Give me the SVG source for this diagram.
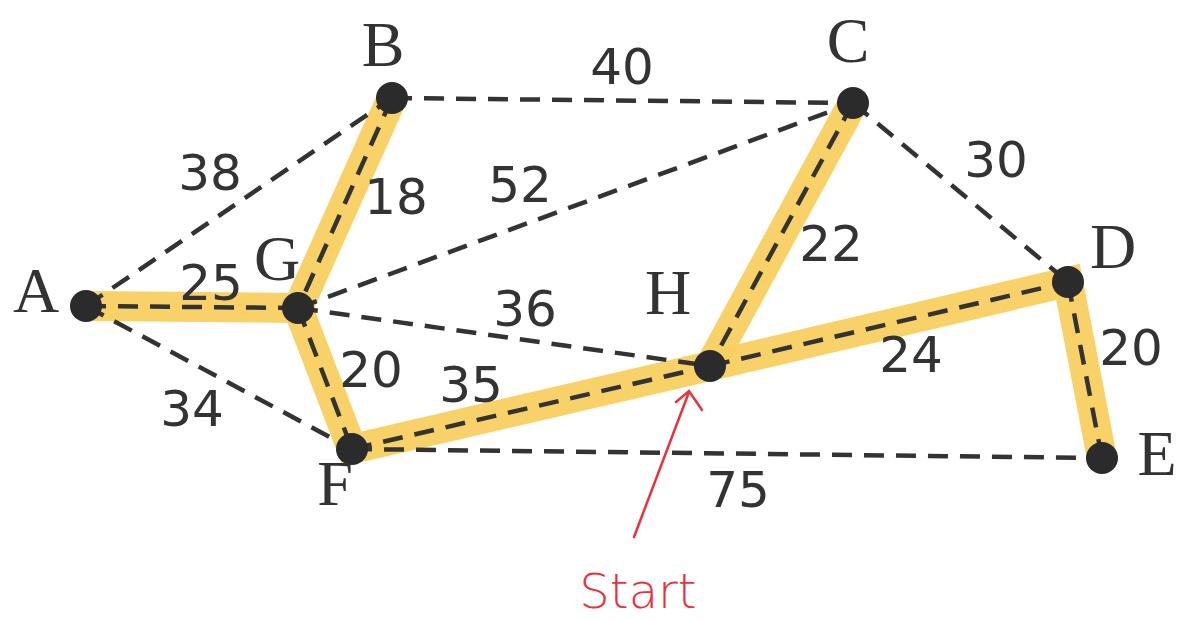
<svg xmlns="http://www.w3.org/2000/svg" width="1181" height="621" viewBox="0 0 1181 621">
<style>
.hl{stroke:#f8d060;stroke-width:30;stroke-linecap:round;fill:none;opacity:0.95}
.e{stroke:#333;stroke-width:4.5;stroke-dasharray:20 12;fill:none}
.n{fill:#2b2b2b}
.lbl{font-family:"Liberation Serif",serif;font-size:64px;fill:#333;text-anchor:middle}
.w{font-family:"DejaVu Sans",sans-serif;font-size:50px;fill:#333;text-anchor:middle}
.red{stroke:#e8323c;stroke-width:2.5;fill:none;stroke-linecap:round}
</style>
<rect width="1181" height="621" fill="#fff"/>
<g id="highlight">
<path class="hl" d="M86 306 L298 308 L392 98"/>
<path class="hl" d="M298 308 L352 449 L710 366 L853 103"/>
<path class="hl" d="M710 366 L1068 282 L1102 458"/>
</g>
<g id="connectors">
<line class="e" x1="86" y1="306" x2="392" y2="98"/>
<line class="e" x1="86" y1="306" x2="298" y2="308"/>
<line class="e" x1="86" y1="306" x2="352" y2="449"/>
<line class="e" x1="392" y1="98" x2="853" y2="103"/>
<line class="e" x1="392" y1="98" x2="298" y2="308"/>
<line class="e" x1="298" y1="308" x2="853" y2="103"/>
<line class="e" x1="853" y1="103" x2="1068" y2="282"/>
<line class="e" x1="853" y1="103" x2="710" y2="366"/>
<line class="e" x1="298" y1="308" x2="710" y2="366"/>
<line class="e" x1="298" y1="308" x2="352" y2="449"/>
<line class="e" x1="352" y1="449" x2="710" y2="366"/>
<line class="e" x1="710" y1="366" x2="1068" y2="282"/>
<line class="e" x1="1068" y1="282" x2="1102" y2="458"/>
<line class="e" x1="352" y1="449" x2="1102" y2="458"/>
<text class="w" x="622" y="84">40</text>
<text class="w" x="210" y="190">38</text>
<text class="w" x="396" y="214">18</text>
<text class="w" x="520" y="202">52</text>
<text class="w" x="996" y="177">30</text>
<text class="w" x="831" y="261">22</text>
<text class="w" x="211" y="300">25</text>
<text class="w" x="525" y="326">36</text>
<text class="w" x="371" y="387">20</text>
<text class="w" x="471" y="402">35</text>
<text class="w" x="911" y="372">24</text>
<text class="w" x="1131" y="365">20</text>
<text class="w" x="192" y="426">34</text>
<text class="w" x="738" y="507">75</text>
</g>
<g id="A"><circle class="n" cx="86" cy="306" r="16"/><text class="lbl" x="36" y="312">A</text></g>
<g id="B"><circle class="n" cx="392" cy="98" r="16"/><text class="lbl" x="383" y="66">B</text></g>
<g id="C"><circle class="n" cx="853" cy="103" r="16"/><text class="lbl" x="848" y="62">C</text></g>
<g id="D"><circle class="n" cx="1068" cy="282" r="16"/><text class="lbl" x="1113" y="268">D</text></g>
<g id="E"><circle class="n" cx="1102" cy="458" r="16"/><text class="lbl" x="1157" y="475">E</text></g>
<g id="F"><circle class="n" cx="352" cy="449" r="16"/><text class="lbl" x="335" y="505">F</text></g>
<g id="G"><circle class="n" cx="298" cy="308" r="16"/><text class="lbl" x="277" y="280">G</text></g>
<g id="H"><circle class="n" cx="710" cy="366" r="16"/><text class="lbl" x="668" y="314">H</text></g>
<g id="start">
<path class="red" d="M634 537 L689 392 M676 402 L689 391 L702 410"/>
<text x="638" y="608" font-family="DejaVu Sans,sans-serif" font-weight="200" font-size="48" fill="#e8323c" text-anchor="middle">Start</text>
</g>
</svg>
